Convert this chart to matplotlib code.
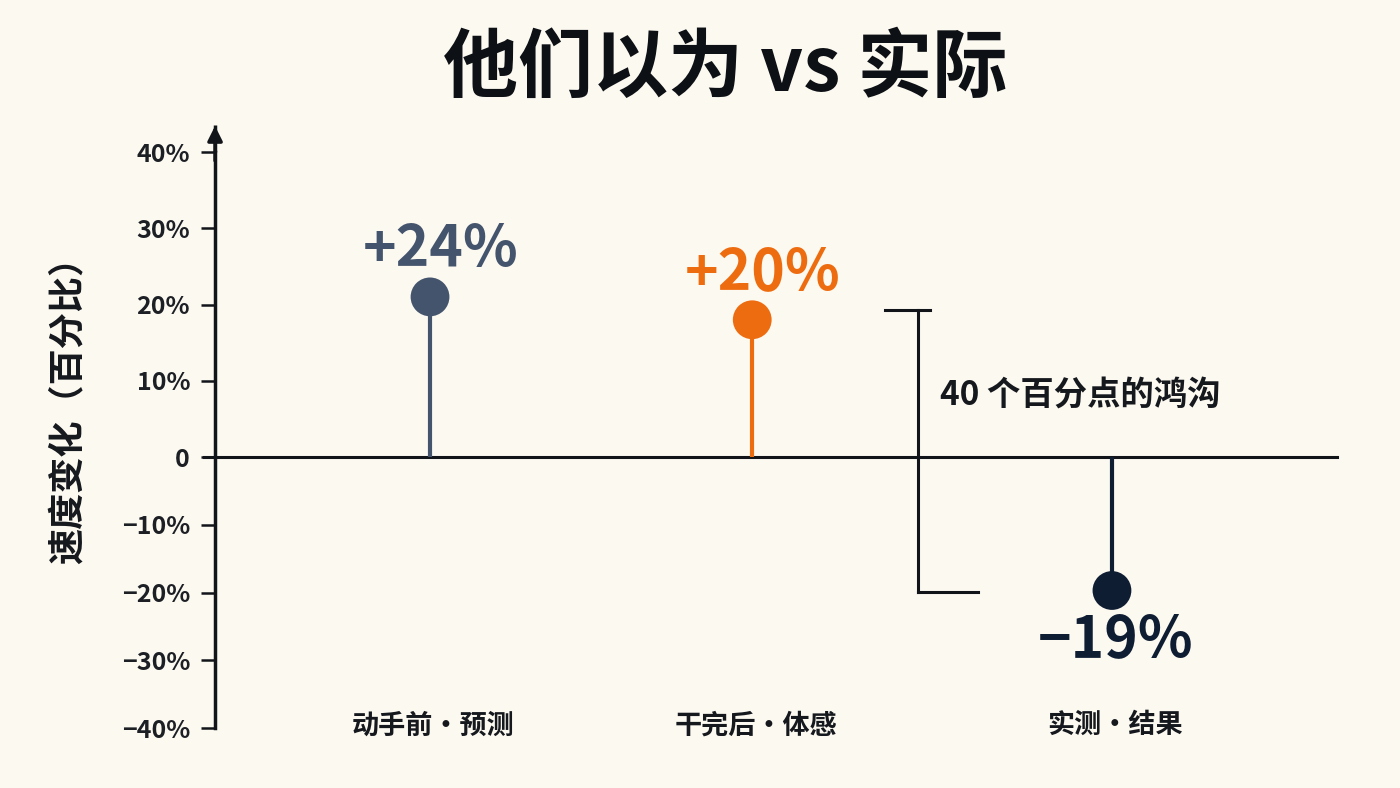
import numpy as np
import matplotlib
matplotlib.use('Agg')
import matplotlib.pyplot as plt

plt.rcParams['font.family'] = ['Noto Sans CJK SC', 'DejaVu Sans']
plt.rcParams['axes.unicode_minus'] = True

# ── 数据 ──────────────────────────────────────────────
categories  = ["动手前·预测", "干完后·体感", "实测·结果"]
values      = [21, 18, -19.7]          # 点在图上的位置（百分比）
value_texts = ["+24%", "+20%", "\u221219%"]
colors      = ["#44546c", "#ee6c10", "#0f1d33"]
yticks      = [40, 30, 20, 10, 0, -10, -20, -30, -40]
ytick_texts = ["40%", "30%", "20%", "10%", "0", "\u221210%", "\u221220%", "\u221230%", "\u221240%"]
gap_top, gap_bottom = 19.3, -19.9
gap_text = "40 个百分点的鸿沟"

# 布局
xpos = [0, 0.945, 2]
BG = "#fcf9f1"
INK = "#111418"

# 零以下刻度间距略小
K = 0.8885
def fwd(y):
    y = np.asarray(y, dtype=float)
    return np.where(y >= 0, y, y * K)
def inv(y):
    y = np.asarray(y, dtype=float)
    return np.where(y >= 0, y, y / K)

fig = plt.figure(figsize=(14, 7.88), dpi=100, facecolor=BG)
ax = fig.add_axes([0.1536, 0.0761, 0.8014, 0.7310])
ax.set_facecolor(BG)
ax.set_yscale('function', functions=(fwd, inv))
ax.set_ylim(-40, 40)
ax.set_xlim(-0.6305, 2.66)

for s in ['top', 'right', 'bottom']:
    ax.spines[s].set_visible(False)
ax.spines['left'].set_linewidth(2.5)
ax.spines['left'].set_color(INK)
ax.set_yticks(yticks)
ax.set_yticklabels(ytick_texts, fontsize=18, fontweight='bold', color="#1c1f24")
ax.tick_params(axis='y', length=10, width=1.8, color=INK, pad=8)
ax.set_xticks([])

# y 轴箭头
ax.annotate("", xy=(0, 1.05), xytext=(0, 0.98), xycoords='axes fraction',
            arrowprops=dict(arrowstyle='-|>', color=INK, lw=2.5, mutation_scale=22),
            annotation_clip=False)
ax.plot([-0.6305, -0.6305], [40, 43.5], color=INK, lw=2.5, clip_on=False, solid_capstyle='butt')

# 零线
ax.axhline(0, color=INK, lw=2.2, xmin=-0.01, clip_on=False, zorder=2)

# 棒棒糖
for x, v, c in zip(xpos, values, colors):
    ax.plot([x, x], [0, v], color=c, lw=3, solid_capstyle='butt', zorder=3)
    ax.scatter([x], [v], s=780, color=c, zorder=4, edgecolors='none')
for x, v, c, t in zip(xpos, values, colors, value_texts):
    if v >= 0:
        ax.text(x + 0.03, v + 2.3, t, ha='center', va='bottom', fontsize=41,
                fontweight='bold', color=c)
    else:
        ax.text(x + 0.01, v - 3.0, t, ha='center', va='top', fontsize=41,
                fontweight='bold', color=c)

# 类别标签
for x, cat in zip(xpos, categories):
    ax.text(x + 0.01, -39.6, cat, ha='center', va='center', fontsize=19.5,
            fontweight='bold', color="#15181d")

# 鸿沟括号
bx = 1.431
ax.plot([bx, bx], [gap_bottom, gap_top], color=INK, lw=2.2, zorder=2)
ax.plot([1.334, 1.466], [gap_top, gap_top], color=INK, lw=2.2)
ax.plot([bx, 1.607], [gap_bottom, gap_bottom], color=INK, lw=2.2)
ax.text(1.496, 8.1, gap_text, ha='left', va='center', fontsize=24,
        fontweight='bold', color="#15181d")

# 标题与 y 轴标题
fig.text(0.518, 0.913, "他们以为 vs 实际", ha='center', va='center', fontsize=54,
         fontweight='bold', color="#0d1014")
fig.text(0.049, 0.491, "速度变化（百分比）", ha='center', va='center', rotation=90,
         fontsize=26, fontweight='bold', color="#15181d")

plt.savefig("out.png", dpi=100, facecolor=BG)
